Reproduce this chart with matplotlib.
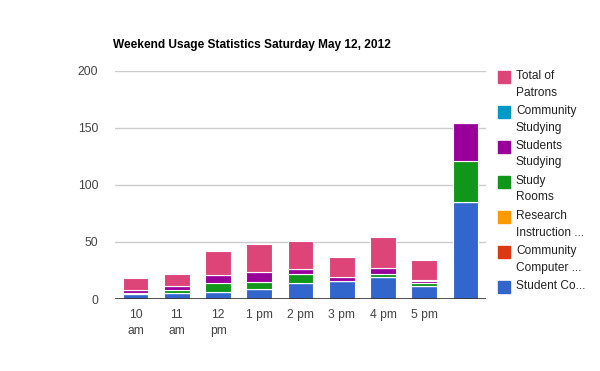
import numpy as np
import matplotlib
matplotlib.use("Agg")
import matplotlib.pyplot as plt
from matplotlib.patches import Rectangle

plt.rcParams['font.family'] = ['Liberation Sans', 'DejaVu Sans']

# data
categories = ["10\nam", "11\nam", "12\npm", "1 pm", "2 pm", "3 pm", "4 pm", "5 pm", ""]
student_computers = [4, 5, 6, 9, 14, 16, 19, 11, 85]
community_computers = [0, 0, 0, 0, 0, 0, 0, 0, 0]
research_instruction = [0, 0, 0, 0, 0, 0, 0, 0, 0]
study_rooms = [1, 3, 8, 6, 8, 0, 3, 3, 36]
students_studying = [3, 3, 7, 9, 4, 3, 5, 2, 33]
community_studying = [0, 0, 0, 0, 0, 0, 0, 1, 0]
total_patrons = [10, 11, 21, 24, 25, 18, 27, 17, 0]

series = [
    ("Student Co...", student_computers, "#3366cc"),
    ("Community\nComputer ...", community_computers, "#dc3912"),
    ("Research\nInstruction ...", research_instruction, "#ff9900"),
    ("Study\nRooms", study_rooms, "#109618"),
    ("Students\nStudying", students_studying, "#990099"),
    ("Community\nStudying", community_studying, "#0099c6"),
    ("Total of\nPatrons", total_patrons, "#dd4477"),
]

W, H = 600, 371
fig = plt.figure(figsize=(6, 3.71), dpi=100)
ax = fig.add_axes([115 / W, (H - 299) / H, 371 / W, 228 / H])

x = np.arange(len(categories))
bottom = np.zeros(len(categories))
for name, vals, col in series:
    vals = np.array(vals, dtype=float)
    ax.bar(x, vals, bottom=bottom, width=0.62, color=col,
           edgecolor="white", linewidth=0.8, zorder=3)
    bottom += vals

ax.set_xlim(-0.5, len(categories) - 0.5)
ax.set_ylim(0, 200)
ax.set_yticks([0, 50, 100, 150, 200])
ax.grid(axis="y", color="#cccccc", linewidth=1, zorder=0)
ax.axhline(0, color="#333333", linewidth=1.2, zorder=4)
for s in ax.spines.values():
    s.set_visible(False)
ax.tick_params(length=0, colors="#444444", labelsize=8.7)
ax.tick_params(axis="y", pad=12)
ax.tick_params(axis="x", pad=7)
ax.set_xticks(x)
ax.set_xticklabels(categories, linespacing=1.5)

fig.text(113 / W, 1 - 45 / H, "Weekend Usage Statistics Saturday May 12, 2012",
         fontsize=8.6, fontweight="bold", color="black", va="center")

# legend, top to bottom
for i, (name, vals, col) in enumerate(reversed(series)):
    top = 71 + 35 * i
    fig.patches.append(Rectangle((498 / W, 1 - (top + 12) / H), 12 / W, 12 / H,
                                 transform=fig.transFigure, color=col))
    fig.text(516 / W, 1 - (top - 1) / H, name, fontsize=8.6, color="#222222",
             va="top", ha="left", linespacing=1.5)

fig.savefig("out.png", dpi=100)
